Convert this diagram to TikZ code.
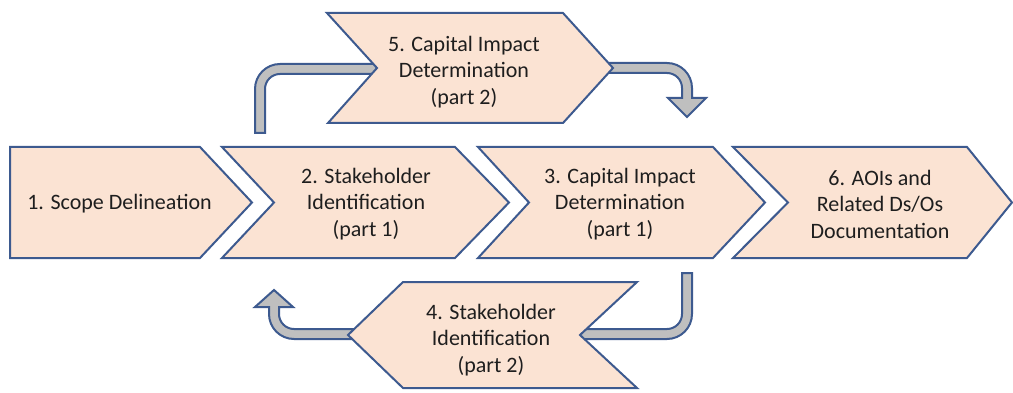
\documentclass[tikz,border=0pt]{standalone}
\usepackage{fontspec}
\setmainfont{Carlito}
\definecolor{peach}{HTML}{FBE3D3}
\definecolor{edgeblue}{HTML}{3D5A8F}
\definecolor{bandgray}{HTML}{BFBFBF}
\definecolor{txt}{HTML}{1E1E1E}
\begin{document}
\begin{tikzpicture}[x=1pt,y=-1pt,
  chev/.style={fill=peach,draw=edgeblue,line width=2pt,line join=miter},
  band/.style={fill=bandgray,draw=edgeblue,line width=2pt,line join=miter},
  lbl/.style={font=\fontsize{22}{26.5}\selectfont,text=txt,align=center,inner sep=0pt}]
\useasboundingbox (0,0) rectangle (1013,393);
% block arrows (drawn first, chevrons overlap their ends)
\draw[band] (255,133) -- (255,89) arc[start angle=180,end angle=270,radius=25] -- (385,64) -- (385,74) -- (280,74) arc[start angle=270,end angle=180,radius=15] -- (265,133) -- cycle;
\draw[band] (600,63) -- (667,63) arc[start angle=270,end angle=360,radius=25] -- (692,98) -- (706,98) -- (687,117) -- (668,98) -- (682,98) -- (682,88) arc[start angle=0,end angle=-90,radius=15] -- (600,73) -- cycle;
\draw[band] (682,273) -- (692,273) -- (692,314) arc[start angle=0,end angle=90,radius=25] -- (575,339) -- (575,329) -- (667,329) arc[start angle=90,end angle=0,radius=15] -- cycle;
\draw[band] (360,329) -- (294,329) arc[start angle=90,end angle=180,radius=15] -- (279,307) -- (293,307) -- (274,290) -- (255,307) -- (269,307) -- (269,314) arc[start angle=180,end angle=90,radius=25] -- (360,339) -- cycle;
% chevrons
\draw[chev] (10,147) -- (200,147) -- (252,202.5) -- (200,258) -- (10,258) -- cycle;
\draw[chev] (222,147) -- (455,147) -- (509,202.5) -- (455,258) -- (222,258) -- (274,202.5) -- cycle;
\draw[chev] (478,147) -- (713,147) -- (765,202.5) -- (713,258) -- (478,258) -- (529,202.5) -- cycle;
\draw[chev] (733,147) -- (967,147) -- (1012,202.5) -- (967,258) -- (733,258) -- (788,202.5) -- cycle;
\draw[chev] (327,13) -- (563,13) -- (613,68) -- (563,123) -- (328,123) -- (377,68) -- cycle;
\draw[chev] (403,282) -- (637,282) -- (580,335) -- (637,388) -- (403,388) -- (348,335) -- cycle;
% labels
\node[lbl] (s1) at (119.5,204) {1. Scope Delineation};
\node[lbl] (s2) at (366,204) {2. Stakeholder\\Identification\\(part 1)};
\node[lbl] (s3) at (620,204) {3. Capital Impact\\Determination\\(part 1)};
\node[lbl] (s6) at (880,204) {6. AOIs and\\Related Ds/Os\\Documentation};
\node[lbl] (s5) at (464,72) {5. Capital Impact\\Determination\\(part 2)};
\node[lbl] (s4) at (491,340) {4. Stakeholder\\Identification\\(part 2)};
\end{tikzpicture}
\end{document}
